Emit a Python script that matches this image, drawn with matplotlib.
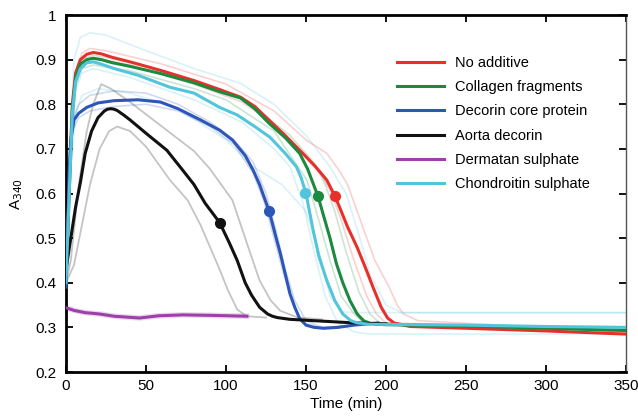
import numpy as np
import matplotlib.pyplot as plt

plt.rcParams['font.family'] = ['Liberation Sans', 'DejaVu Sans']

# main traces (time in min, A340)
red_t = [0, 2, 4, 6, 9, 13, 17, 22, 29, 40, 59, 80, 96, 109, 118, 127, 137, 148, 156, 163, 168, 171, 176, 182, 187, 192, 197, 201, 205, 215, 250, 300, 350]
red_y = [0.42, 0.62, 0.80, 0.87, 0.90, 0.912, 0.916, 0.913, 0.905, 0.895, 0.876, 0.853, 0.833, 0.816, 0.795, 0.764, 0.73, 0.69, 0.66, 0.63, 0.595, 0.569, 0.525, 0.479, 0.435, 0.389, 0.345, 0.321, 0.31, 0.302, 0.298, 0.292, 0.285]

green_t = [0, 2, 4, 6, 9, 13, 17, 22, 29, 40, 59, 80, 96, 109, 118, 127, 137, 146, 151, 154.5, 157.5, 160.6, 165, 169, 173, 177.5, 182, 186, 190, 194, 200, 250, 300, 350]
green_y = [0.40, 0.60, 0.79, 0.86, 0.89, 0.90, 0.903, 0.90, 0.893, 0.885, 0.869, 0.848, 0.828, 0.814, 0.79, 0.757, 0.725, 0.69, 0.655, 0.622, 0.594, 0.555, 0.50, 0.443, 0.40, 0.36, 0.33, 0.315, 0.309, 0.307, 0.306, 0.303, 0.298, 0.293]

cyan_t = [0, 2, 4, 6, 9, 13, 17, 22, 30, 45, 65, 80, 96, 107, 118, 127.5, 137, 144, 147, 150, 154.5, 158, 163, 168, 173, 178, 182, 190, 250, 300, 350]
cyan_y = [0.40, 0.60, 0.78, 0.85, 0.88, 0.893, 0.895, 0.89, 0.88, 0.865, 0.838, 0.825, 0.793, 0.776, 0.75, 0.726, 0.69, 0.66, 0.635, 0.60, 0.517, 0.46, 0.405, 0.36, 0.33, 0.315, 0.31, 0.307, 0.305, 0.302, 0.30]

blue_t = [0, 1, 2, 3, 5, 8, 13, 20, 30, 45, 59, 70, 84, 96, 104, 112, 117, 121, 124, 127, 131, 134, 137, 140, 143, 146, 150, 155, 161, 170, 180, 195]
blue_y = [0.39, 0.50, 0.65, 0.72, 0.765, 0.78, 0.793, 0.803, 0.808, 0.81, 0.805, 0.79, 0.765, 0.742, 0.72, 0.685, 0.652, 0.62, 0.59, 0.56, 0.505, 0.465, 0.42, 0.375, 0.345, 0.32, 0.305, 0.30, 0.298, 0.30, 0.305, 0.31]

black_t = [0, 3, 6, 9, 12, 16, 20, 24, 26, 28, 30, 32, 36, 40, 50, 63, 73, 80, 87, 96, 102, 107, 112, 116, 121, 124, 126, 129, 132, 140, 160, 180, 200]
black_y = [0.43, 0.50, 0.57, 0.625, 0.69, 0.74, 0.77, 0.785, 0.789, 0.79, 0.789, 0.786, 0.776, 0.765, 0.735, 0.697, 0.652, 0.62, 0.578, 0.535, 0.49, 0.45, 0.40, 0.372, 0.345, 0.336, 0.33, 0.325, 0.322, 0.318, 0.314, 0.31, 0.308]

purple_t = [0, 5, 12, 21, 30, 46, 58, 73, 90, 113]
purple_y = [0.344, 0.338, 0.333, 0.33, 0.325, 0.321, 0.326, 0.328, 0.327, 0.325]

# midpoint markers
dot_t = {'red': 168, 'green': 157.5, 'cyan': 149.5, 'blue': 127, 'black': 96}
dot_y = {'red': 0.595, 'green': 0.594, 'cyan': 0.602, 'blue': 0.56, 'black': 0.535}

# replicate traces (faint)
grayA_t = [0, 3, 8, 13, 17, 22, 28, 40, 60, 80, 90, 97, 104, 112, 121, 128, 134, 145, 160]
grayA_y = [0.40, 0.45, 0.62, 0.74, 0.80, 0.845, 0.835, 0.805, 0.75, 0.695, 0.655, 0.62, 0.585, 0.5, 0.405, 0.36, 0.337, 0.322, 0.318]
grayB_t = [0, 5, 10, 15, 21, 27, 32, 40, 50, 65, 76, 84, 90, 96, 101, 107, 113, 125]
grayB_y = [0.40, 0.44, 0.53, 0.62, 0.70, 0.74, 0.75, 0.74, 0.705, 0.63, 0.585, 0.53, 0.48, 0.43, 0.385, 0.34, 0.325, 0.322]

redA_t = [0, 3, 6, 10, 15, 25, 60, 100, 130, 150, 163, 171, 176, 185, 193, 202, 207, 211, 220, 350]
redA_y = [0.42, 0.7, 0.87, 0.915, 0.925, 0.92, 0.89, 0.845, 0.785, 0.72, 0.69, 0.65, 0.62, 0.53, 0.45, 0.39, 0.35, 0.33, 0.315, 0.29]
redB_t = [0, 3, 6, 10, 17, 40, 80, 110, 130, 150, 160, 166, 172, 180, 188, 194, 200, 350]
redB_y = [0.41, 0.7, 0.85, 0.895, 0.905, 0.888, 0.845, 0.805, 0.755, 0.68, 0.64, 0.6, 0.54, 0.45, 0.37, 0.33, 0.31, 0.29]
greenA_t = [0, 3, 6, 10, 17, 40, 80, 100, 130, 150.6, 158, 165, 172, 180, 186, 350]
greenA_y = [0.40, 0.68, 0.84, 0.88, 0.888, 0.875, 0.835, 0.81, 0.74, 0.63, 0.54, 0.45, 0.37, 0.33, 0.31, 0.295]
greenB_t = [0, 3, 6, 10, 17, 40, 80, 110, 140, 155, 162, 168, 175, 183, 190, 196, 350]
greenB_y = [0.40, 0.7, 0.86, 0.9, 0.91, 0.895, 0.855, 0.815, 0.73, 0.67, 0.62, 0.56, 0.47, 0.38, 0.33, 0.31, 0.298]
cyanA_t = [0, 2, 5, 9, 15, 25, 50, 80, 109, 130, 150, 165, 175, 182, 190, 200, 210, 350]
cyanA_y = [0.45, 0.7, 0.9, 0.95, 0.96, 0.955, 0.92, 0.88, 0.847, 0.8, 0.73, 0.66, 0.6, 0.52, 0.42, 0.35, 0.333, 0.333]
cyanB_t = [0, 3, 6, 10, 20, 40, 70, 100, 117, 135, 150, 158, 165, 172, 180, 350]
cyanB_y = [0.42, 0.65, 0.78, 0.82, 0.835, 0.825, 0.79, 0.72, 0.66, 0.62, 0.56, 0.47, 0.37, 0.335, 0.333, 0.333]
cyanC_t = [0, 3, 6, 10, 17, 40, 80, 110, 130, 140, 148, 155, 162, 170, 180, 190, 350]
cyanC_y = [0.40, 0.68, 0.83, 0.87, 0.88, 0.86, 0.81, 0.76, 0.7, 0.66, 0.58, 0.47, 0.37, 0.31, 0.29, 0.285, 0.285]
blueA_t = [0, 2, 4, 8, 15, 30, 50, 70, 90, 105, 117, 125, 131, 137, 143, 150, 160, 180]
blueA_y = [0.40, 0.65, 0.76, 0.80, 0.82, 0.83, 0.825, 0.8, 0.76, 0.72, 0.67, 0.6, 0.52, 0.43, 0.36, 0.315, 0.30, 0.305]
blueB_t = [0, 2, 4, 8, 15, 30, 50, 70, 90, 105, 117, 124, 130, 136, 142, 148, 160, 180]
blueB_y = [0.38, 0.62, 0.74, 0.77, 0.785, 0.795, 0.8, 0.785, 0.75, 0.71, 0.645, 0.58, 0.5, 0.42, 0.35, 0.31, 0.298, 0.305]

labels = ['No additive', 'Collagen fragments', 'Decorin core protein',
          'Aorta decorin', 'Dermatan sulphate', 'Chondroitin sulphate']
col = {'red': '#e8302a', 'green': '#1b8a3e', 'blue': '#2c56b8',
       'black': '#111111', 'purple': '#9b41a8', 'cyan': '#52c5dc'}

fig = plt.figure(figsize=(6.38, 4.16), dpi=100)
ax = fig.add_axes([66/638, 1-372/416, 560/638, 357/416])

# faint replicates
ax.plot(grayA_t, grayA_y, color='#c4c4c4', lw=1.3, zorder=1)
ax.plot(grayB_t, grayB_y, color='#c4c4c4', lw=1.3, zorder=1)
for tt, yy, c in [(redA_t, redA_y, 'red'), (redB_t, redB_y, 'red'),
                  (greenA_t, greenA_y, 'green'), (greenB_t, greenB_y, 'green'),
                  (cyanA_t, cyanA_y, 'cyan'), (cyanB_t, cyanB_y, 'cyan'),
                  (cyanC_t, cyanC_y, 'cyan'),
                  (blueA_t, blueA_y, 'blue'), (blueB_t, blueB_y, 'blue')]:
    ax.plot(tt, yy, color=col[c], lw=1.2, alpha=0.22, zorder=1)
ax.plot(purple_t, purple_y, color=col['purple'], lw=4, alpha=0.2, zorder=1)

# main traces
lw = 2.2
ax.plot(red_t, red_y, color=col['red'], lw=lw, label=labels[0], zorder=3)
ax.plot(green_t, green_y, color=col['green'], lw=lw, label=labels[1], zorder=3)
ax.plot(blue_t, blue_y, color=col['blue'], lw=lw, label=labels[2], zorder=3)
ax.plot(black_t, black_y, color=col['black'], lw=lw, label=labels[3], zorder=3)
ax.plot(purple_t, purple_y, color=col['purple'], lw=lw, label=labels[4], zorder=3)
ax.plot(cyan_t, cyan_y, color=col['cyan'], lw=lw, label=labels[5], zorder=3)

for k in dot_t:
    ax.plot(dot_t[k], dot_y[k], 'o', color=col[k], ms=7, zorder=4)

ax.set_xlim(0, 350)
ax.set_ylim(0.2, 1)
ax.set_xticks(np.arange(0, 351, 50))
ax.set_yticks([0.2, 0.3, 0.4, 0.5, 0.6, 0.7, 0.8, 0.9, 1.0])
ax.set_yticklabels(['0.2', '0.3', '0.4', '0.5', '0.6', '0.7', '0.8', '0.9', '1'])
ax.tick_params(direction='in', length=5, width=1.3, labelsize=11,
               top=True, right=True)
ax.tick_params(axis='y', pad=7)
ax.tick_params(axis='x', pad=5)
for s in ['left', 'bottom', 'top']:
    ax.spines[s].set_linewidth(2)
ax.spines['right'].set_linewidth(1)
ax.spines['right'].set_color('#555555')

ax.set_xlabel('Time (min)', fontsize=11, labelpad=3)
ax.set_ylabel('A$_{340}$', fontsize=11, labelpad=7)

ax.legend(loc='upper left', bbox_to_anchor=(0.591, 0.885), frameon=False,
          fontsize=10.5, handlelength=3.2, handletextpad=0.8,
          labelspacing=0.7, borderpad=0, borderaxespad=0)

plt.savefig('out.png', dpi=100)
